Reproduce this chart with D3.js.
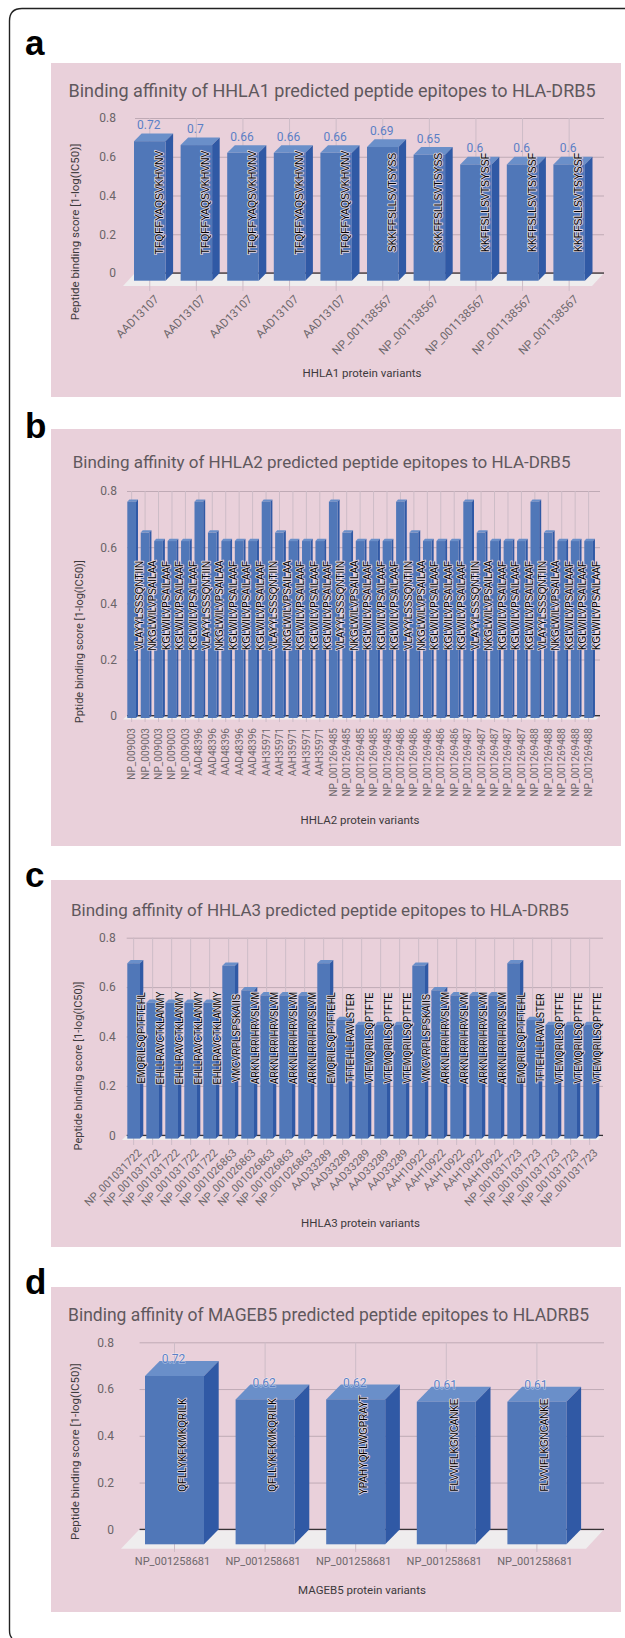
<!DOCTYPE html>
<html>
<head>
<meta charset="utf-8">
<title>Binding affinity of predicted peptide epitopes to HLA-DRB5</title>
<script src="https://d3js.org/d3.v7.min.js"></script>
<style>
  html, body { margin: 0; padding: 0; background: #fff; }
  svg { display: block; }
  text { font-family: Roboto, sans-serif; }
  .letter { font-family: "Liberation Sans", Arial, sans-serif; font-weight: bold; font-size: 35px; fill: #000; }
  .peptide { font-family: "Liberation Sans", Arial, sans-serif; fill: #000; stroke: #e2d6df; stroke-width: 1.8px; paint-order: stroke; stroke-linejoin: round; }
</style>
</head>
<body>
<script>
// panel a
var aCategories = ["AAD13107","AAD13107","AAD13107","AAD13107","AAD13107",
                   "NP_001138567","NP_001138567","NP_001138567","NP_001138567","NP_001138567"];
var aValues = [0.72,0.7,0.66,0.66,0.66,0.69,0.65,0.6,0.6,0.6];
var aPeptides = ["TFQFFYAQSVKHVNV","TFQFFYAQSVKHVNV","TFQFFYAQSVKHVNV","TFQFFYAQSVKHVNV","TFQFFYAQSVKHVNV",
                 "SKKFFSLLSVTSYSS","SKKFFSLLSVTSYSS","KKFFSLLSVTSYSSF","KKFFSLLSVTSYSSF","KKFFSLLSVTSYSSF"];

// panel b
var bCategories = ["NP_009003","NP_009003","NP_009003","NP_009003","NP_009003",
                   "AAD48396","AAD48396","AAD48396","AAD48396","AAD48396",
                   "AAH35971","AAH35971","AAH35971","AAH35971","AAH35971",
                   "NP_001269485","NP_001269485","NP_001269485","NP_001269485","NP_001269485",
                   "NP_001269486","NP_001269486","NP_001269486","NP_001269486","NP_001269486",
                   "NP_001269487","NP_001269487","NP_001269487","NP_001269487","NP_001269487",
                   "NP_001269488","NP_001269488","NP_001269488","NP_001269488","NP_001269488"];
var bValues = [0.77,0.66,0.63,0.63,0.63, 0.77,0.66,0.63,0.63,0.63, 0.77,0.66,0.63,0.63,0.63,
               0.77,0.66,0.63,0.63,0.63, 0.77,0.66,0.63,0.63,0.63, 0.77,0.66,0.63,0.63,0.63,
               0.77,0.66,0.63,0.63,0.63];
var bPeptides = ["VLAYYLSSSQNTIIN","NKGLWILVPSAILAA","KGLWILVPSAILAAF","KGLWILVPSAILAAF","KGLWILVPSAILAAF",
                 "VLAYYLSSSQNTIIN","NKGLWILVPSAILAA","KGLWILVPSAILAAF","KGLWILVPSAILAAF","KGLWILVPSAILAAF",
                 "VLAYYLSSSQNTIIN","NKGLWILVPSAILAA","KGLWILVPSAILAAF","KGLWILVPSAILAAF","KGLWILVPSAILAAF",
                 "VLAYYLSSSQNTIIN","NKGLWILVPSAILAA","KGLWILVPSAILAAF","KGLWILVPSAILAAF","KGLWILVPSAILAAF",
                 "VLAYYLSSSQNTIIN","NKGLWILVPSAILAA","KGLWILVPSAILAAF","KGLWILVPSAILAAF","KGLWILVPSAILAAF",
                 "VLAYYLSSSQNTIIN","NKGLWILVPSAILAA","KGLWILVPSAILAAF","KGLWILVPSAILAAF","KGLWILVPSAILAAF",
                 "VLAYYLSSSQNTIIN","NKGLWILVPSAILAA","KGLWILVPSAILAAF","KGLWILVPSAILAAF","KGLWILVPSAILAAF"];

// panel c
var cCategories = ["NP_001031722","NP_001031722","NP_001031722","NP_001031722","NP_001031722",
                   "NP_001026863","NP_001026863","NP_001026863","NP_001026863","NP_001026863",
                   "AAD33289","AAD33289","AAD33289","AAD33289","AAD33289",
                   "AAH10922","AAH10922","AAH10922","AAH10922","AAH10922",
                   "NP_001031723","NP_001031723","NP_001031723","NP_001031723","NP_001031723"];
var cValues = [0.71,0.55,0.55,0.55,0.55, 0.7,0.6,0.58,0.58,0.58, 0.71,0.48,0.46,0.46,0.46,
               0.7,0.6,0.58,0.58,0.58, 0.71,0.48,0.46,0.46,0.46];
var cPeptides = ["EMQRILSQPTFTEHL","EHLLRAVCTKLANMY","EHLLRAVCTKLANMY","EHLLRAVCTKLANMY","EHLLRAVCTKLANMY",
                 "VMCVRPLSPSKAIIS","ARKNLRRIHRVSLVM","ARKNLRRIHRVSLVM","ARKNLRRIHRVSLVM","ARKNLRRIHRVSLVM",
                 "EMQRILSQPTFTEHL","TFTEHLLRAVLSTER","VTEMQRILSQPTFTE","VTEMQRILSQPTFTE","VTEMQRILSQPTFTE",
                 "VMCVRPLSPSKAIIS","ARKNLRRIHRVSLVM","ARKNLRRIHRVSLVM","ARKNLRRIHRVSLVM","ARKNLRRIHRVSLVM",
                 "EMQRILSQPTFTEHL","TFTEHLLRAVLSTER","VTEMQRILSQPTFTE","VTEMQRILSQPTFTE","VTEMQRILSQPTFTE"];

// panel d
var dCategories = ["NP_001258681","NP_001258681","NP_001258681","NP_001258681","NP_001258681"];
var dValues = [0.72,0.62,0.62,0.61,0.61];
var dPeptides = ["QFLLYKFKMKQRILK","QFLLYKFKMKQRILK","YPAHYQFLWGPRAYT","FLVVIFLKGNCANKE","FLVVIFLKGNCANKE"];

var yTicks = [0,0.2,0.4,0.6,0.8];

var svg = d3.select("body").append("svg")
    .attr("width", 625)
    .attr("height", 1638);

// page frame, open on the right
svg.append("path")
    .attr("d", "M625,8.5 H22 Q9.5,8.5 9.5,21 V1630 Q9.5,1636 12,1638")
    .attr("fill", "none")
    .attr("stroke", "#222")
    .attr("stroke-width", 1.4);

function drawPanel(p) {
  var g = svg.append("g");

  g.append("rect")
      .attr("x", 51).attr("y", p.top)
      .attr("width", 570).attr("height", p.bottom - p.top)
      .attr("fill", "#e9d0da");

  g.append("text").attr("class", "letter")
      .attr("x", p.letterX).attr("y", p.letterY)
      .text(p.letter);

  g.append("text")
      .attr("x", p.titleX).attr("y", p.titleY)
      .attr("font-size", p.titleSize)
      .attr("fill", "#5f585d")
      .text(p.title);

  var y = d3.scaleLinear().domain([0, 0.8]).range([p.y0, p.y8]);

  var x = d3.scaleBand()
      .domain(d3.range(p.values.length))
      .range([p.barLeft, p.barLeft + p.step * (p.values.length - 1) + p.barW])
      .paddingInner(1 - p.barW / p.step)
      .paddingOuter(0);

  // floor
  g.append("path")
      .attr("d", "M" + p.gridLeft + "," + p.y0 + " H" + p.gridRight +
                 " L" + p.floorRight + "," + p.floorY + " H" + p.floorLeft + " Z")
      .attr("fill", "#efedee");

  // horizontal grid and value labels
  var yAxis = g.append("g")
      .attr("transform", "translate(" + p.gridLeft + ",0)")
      .call(d3.axisLeft(y)
        .tickValues(yTicks)
        .tickFormat(d3.format(""))
        .tickSize(-(p.gridRight - p.gridLeft))
        .tickPadding(p.gridLeft - p.yLabelRight));
  yAxis.select(".domain").remove();
  yAxis.selectAll("line").attr("stroke", "#bfaab5").attr("stroke-width", 1);
  yAxis.selectAll("text")
      .attr("font-size", 12)
      .attr("font-family", "Roboto, sans-serif")
      .attr("fill", "#6b6468");

  // vertical grid and category labels
  var xAxis = g.append("g")
      .attr("transform", "translate(0," + p.tickBottom + ")")
      .call(d3.axisBottom(x)
        .tickFormat(function(i) { return p.categories[i]; })
        .tickSize(-(p.tickBottom - p.y8))
        .tickPadding(0));
  xAxis.select(".domain").remove();
  xAxis.selectAll("line").attr("stroke", "#cdbcc7").attr("stroke-width", 1);
  var catLabels = xAxis.selectAll("text")
      .attr("font-size", p.catSize)
      .attr("font-family", "Roboto, sans-serif")
      .attr("fill", "#6e686c");
  if (p.catAngle) {
    catLabels
        .attr("text-anchor", "end")
        .attr("dy", "0.35em")
        .attr("y", 0)
        .attr("transform", "translate(" + p.catDx + "," + p.catDy + ") rotate(" + p.catAngle + ")");
  } else {
    catLabels.attr("x", p.catDx).attr("y", p.catDy).attr("dy", "0.35em");
  }

  // zero line
  g.append("line")
      .attr("x1", p.gridLeft).attr("x2", p.gridRight)
      .attr("y1", y(0)).attr("y2", y(0))
      .attr("stroke", "#111").attr("stroke-width", 1);

  // 3d bars, the value sits on the back plane and the front face is pushed down
  var bars = g.append("g").selectAll("g")
      .data(p.values)
      .join("g");

  bars.append("path")
      .attr("fill", "#6a8fc9")
      .attr("d", function(d, i) {
        var l = x(i), w = x.bandwidth(), t = y(d);
        return "M" + l + "," + (t + p.depthY) + " L" + (l + p.depthX) + "," + t +
               " H" + (l + w + p.depthX) + " L" + (l + w) + "," + (t + p.depthY) + " Z";
      });
  bars.append("path")
      .attr("fill", "#3059a5")
      .attr("d", function(d, i) {
        var r = x(i) + x.bandwidth(), t = y(d);
        return "M" + r + "," + (t + p.depthY) + " L" + (r + p.depthX) + "," + t +
               " V" + y(0) + " L" + r + "," + (y(0) + p.depthY) + " Z";
      });
  bars.append("rect")
      .attr("fill", "#5077b8")
      .attr("x", function(d, i) { return x(i); })
      .attr("y", function(d) { return y(d) + p.depthY; })
      .attr("width", x.bandwidth())
      .attr("height", function(d) { return y(0) - y(d); });

  if (p.showValues) {
    g.append("g").selectAll("text")
        .data(p.values)
        .join("text")
        .attr("x", function(d, i) { return x(i) + x.bandwidth() / 2 + p.valueDx; })
        .attr("y", function(d) { return y(d) + p.valueDy; })
        .attr("dy", "0.35em")
        .attr("text-anchor", "middle")
        .attr("font-size", 12)
        .attr("fill", "#5b7fc6")
        .attr("stroke", p.valueHalo ? "#fff" : "none")
        .attr("stroke-opacity", 0.5)
        .attr("stroke-width", 1.2)
        .style("paint-order", "stroke")
        .text(function(d) { return d; });
  }

  // peptide annotations, all centred on one height
  g.append("g").selectAll("text")
      .data(p.peptides)
      .join("text")
      .attr("class", "peptide")
      .attr("font-size", p.pepSize)
      .attr("text-anchor", "middle")
      .attr("dy", "0.35em")
      .attr("transform", function(d, i) {
        return "translate(" + (x(i) + p.pepDx) + "," + p.pepY + ") rotate(-90) scale(" + p.pepSquash + ",1)";
      })
      .text(function(d) { return d; });

  // axis titles
  g.append("text")
      .attr("transform", "translate(" + p.yTitleX + "," + p.yTitleY + ") rotate(-90)")
      .attr("text-anchor", "middle")
      .attr("dy", "0.35em")
      .attr("font-size", p.yTitleSize)
      .attr("fill", "#3d3a3c")
      .text(p.yTitle);

  g.append("text")
      .attr("x", p.xTitleX).attr("y", p.xTitleY)
      .attr("text-anchor", "middle")
      .attr("dy", "0.35em")
      .attr("font-size", 11.5)
      .attr("fill", "#3d3a3c")
      .text(p.xTitle);
}

drawPanel({
  letter: "a", letterX: 25, letterY: 55, top: 63, bottom: 397,
  title: "Binding affinity of HHLA1 predicted peptide epitopes to HLA-DRB5",
  titleX: 68.5, titleY: 96.5, titleSize: 18,
  categories: aCategories, values: aValues, peptides: aPeptides,
  y0: 273, y8: 118, gridLeft: 135, gridRight: 604, yLabelRight: 116,
  floorLeft: 123, floorRight: 592, floorY: 286, tickBottom: 291,
  barLeft: 134, step: 46.6, barW: 31.5, depthX: 7.6, depthY: 7.7,
  catSize: 11.5, catAngle: -45, catDx: 7, catDy: 6,
  showValues: true, valueDx: -1, valueDy: -8.5,
  pepSize: 11.5, pepSquash: 0.9, pepDx: 24.7, pepY: 202.5,
  yTitle: "Peptide binding score [1-log(IC50)]", yTitleX: 75, yTitleY: 232, yTitleSize: 11.5,
  xTitle: "HHLA1 protein variants", xTitleX: 362, xTitleY: 373
});

drawPanel({
  letter: "b", letterX: 25, letterY: 438, top: 429, bottom: 846,
  title: "Binding affinity of HHLA2 predicted peptide epitopes to HLA-DRB5",
  titleX: 72.7, titleY: 467.5, titleSize: 17,
  categories: bCategories, values: bValues, peptides: bPeptides,
  y0: 715.7, y8: 491, gridLeft: 127, gridRight: 600, yLabelRight: 117,
  floorLeft: 123, floorRight: 596, floorY: 719.5, tickBottom: 722,
  barLeft: 127.3, step: 13.44, barW: 8.7, depthX: 2, depthY: 2.3,
  catSize: 10, catAngle: -90, catDx: 0, catDy: 6,
  showValues: false,
  pepSize: 10, pepSquash: 0.98, pepDx: 12, pepY: 605.5,
  yTitle: "Pptide binding score [1-log(IC50)]", yTitleX: 79, yTitleY: 641.7, yTitleSize: 11,
  xTitle: "HHLA2 protein variants", xTitleX: 360, xTitleY: 820
});

drawPanel({
  letter: "c", letterX: 25, letterY: 887, top: 880, bottom: 1247,
  title: "Binding affinity of HHLA3 predicted peptide epitopes to HLA-DRB5",
  titleX: 71, titleY: 915.5, titleSize: 17,
  categories: cCategories, values: cValues, peptides: cPeptides,
  y0: 1135.3, y8: 937.7, gridLeft: 126.7, gridRight: 603, yLabelRight: 115.7,
  floorLeft: 122, floorRight: 598, floorY: 1140, tickBottom: 1145,
  barLeft: 127.3, step: 19, barW: 12.7, depthX: 3.3, depthY: 3.3,
  catSize: 11, catAngle: -45, catDx: 6, catDy: 6,
  showValues: false,
  pepSize: 10, pepSquash: 0.94, pepDx: 14.4, pepY: 1038,
  yTitle: "Peptide binding score [1-log(IC50)]", yTitleX: 77.7, yTitleY: 1066, yTitleSize: 11,
  xTitle: "HHLA3 protein variants", xTitleX: 360.5, xTitleY: 1222.7
});

drawPanel({
  letter: "d", letterX: 25, letterY: 1294, top: 1287, bottom: 1612,
  title: "Binding affinity of MAGEB5 predicted peptide epitopes to HLADRB5",
  titleX: 68, titleY: 1321, titleSize: 17.5,
  categories: dCategories, values: dValues, peptides: dPeptides,
  y0: 1529.3, y8: 1342.3, gridLeft: 139.6, gridRight: 604, yLabelRight: 114,
  floorLeft: 121, floorRight: 586, floorY: 1548.7, tickBottom: 1552,
  barLeft: 145, step: 90.6, barW: 59, depthX: 14.7, depthY: 15,
  catSize: 11, catDx: -2, catDy: 9,
  showValues: true, valueDx: -1, valueDy: -2, valueHalo: true,
  pepSize: 11, pepSquash: 0.89, pepDx: 37, pepY: 1445,
  yTitle: "Peptide binding score [1-log(IC50)]", yTitleX: 74.6, yTitleY: 1451.7, yTitleSize: 11.5,
  xTitle: "MAGEB5 protein variants", xTitleX: 362, xTitleY: 1590
});
</script>
</body>
</html>
